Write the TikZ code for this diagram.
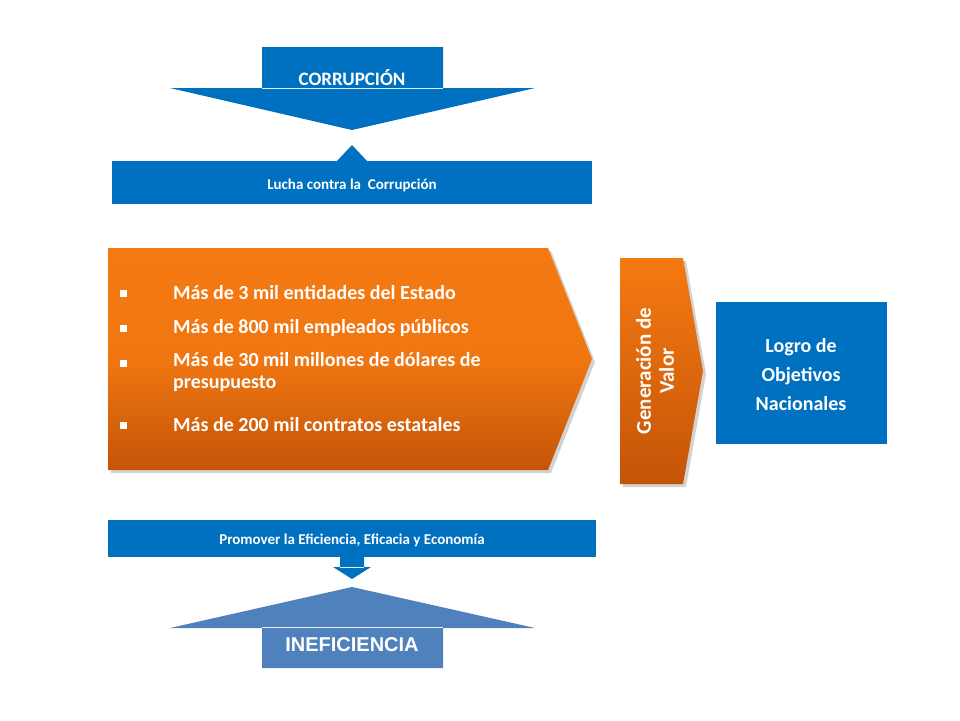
\documentclass[tikz,border=0pt]{standalone}
\usepackage{fontspec}
\setmainfont{Carlito}
\newfontfamily\arialf{Liberation Sans}
\newfontfamily\dejav{DejaVu Sans}
\definecolor{bl}{HTML}{0070C0}
\definecolor{bl2}{HTML}{4F81BD}
\definecolor{orA}{HTML}{F57A12}
\definecolor{orB}{HTML}{C45408}
\begin{document}
\begin{tikzpicture}[x=1pt,y=-1pt,
  txt/.style={text=white,font=\bfseries,align=center,inner sep=0},
  bul/.style={text=white,font=\fontsize{20}{24}\selectfont\bfseries,anchor=west,inner sep=0,align=left}]
\useasboundingbox (0,0) rectangle (960,720);
% top arrow
\fill[bl] (262,47) rectangle (443,89) (170,88) -- (535,88) -- (352,130) -- cycle;
\node[txt,font=\fontsize{19}{22}\selectfont\bfseries] (corr) at (352,78) {CORRUPCIÓN};
\fill[bl] (337,161) -- (352,145) -- (367,161) -- cycle;
\fill[bl] (112,161) rectangle (592,204);
\node[txt,font=\fontsize{15}{18}\selectfont\bfseries] (lucha) at (352,185) {Lucha contra la\ \ Corrupción};
% orange chevron
\fill[black!35,opacity=.5] (111,251) -- (551,251) -- (595,362) -- (551,473) -- (111,473) -- cycle;
\shade[top color=orA,bottom color=orB,middle color=orA!90!orB] (108,248) -- (548,248) -- (592,359) -- (548,470) -- (108,470) -- cycle;
\node[bul] (b1) at (173,293) {Más de 3 mil entidades del Estado};
\node[bul] (b2) at (173,328) {Más de 800 mil empleados públicos};
\node[bul,anchor=north west] (b3) at (173,352) {Más de 30 mil millones de dólares de\\[-2pt]presupuesto};
\node[bul] (b4) at (173,425) {Más de 200 mil contratos estatales};
\foreach \yy in {293,328,363,425} \fill[white] (120,\yy-3.5) rectangle (127,\yy+3.5);
% generacion chevron
\fill[black!35,opacity=.5] (623,261) -- (686,261) -- (706,374) -- (686,487) -- (623,487) -- cycle;
\shade[top color=orA,bottom color=orB] (620,258) -- (683,258) -- (703,371) -- (683,484) -- (620,484) -- cycle;
\node[txt,font=\fontsize{21}{23}\selectfont\bfseries,rotate=90] (gen) at (655,371) {Generación de\\Valor};
% logro
\fill[bl] (716,302) rectangle (887,444);
\node[txt,font=\fontsize{20}{29}\selectfont\bfseries] (logro) at (801,375) {Logro de\\Objetivos\\Nacionales};
% bottom
\fill[bl] (108,520) rectangle (596,557);
\node[txt,font=\fontsize{15}{18}\selectfont\bfseries] (prom) at (352,540) {Promover la Eficiencia, Eficacia y Economía};
\fill[bl] (340,557) rectangle (364,568) (333,567) -- (371,567) -- (352,579) -- cycle;
\fill[bl2] (352,587) -- (535,628) -- (170,628) -- cycle (262,627) rectangle (443,668);
\node[txt,font=\arialf\fontsize{20}{24}\selectfont\bfseries] (inef) at (352,645) {INEFICIENCIA};
\end{tikzpicture}
\end{document}
